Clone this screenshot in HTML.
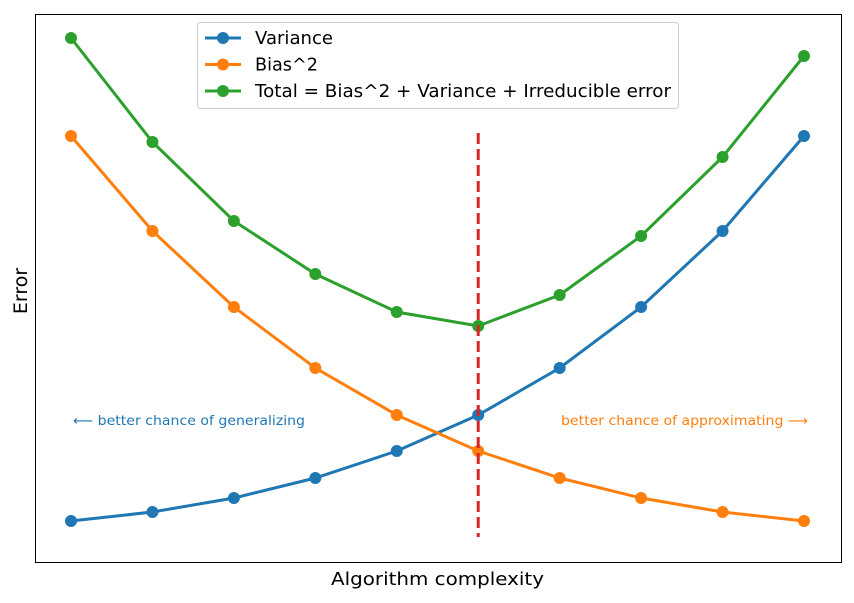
<!DOCTYPE html>
<html><head><meta charset="utf-8"><style>
body{margin:0;background:#fff;width:854px;height:598px;overflow:hidden}
svg{font-family:"DejaVu Sans","Liberation Sans",sans-serif}
</style></head><body>
<svg id="chart" width="854" height="598">
<rect x="35.5" y="14.5" width="806" height="548" fill="#fff" stroke="#000" stroke-width="1"/>
<text x="331" y="585" font-size="18" textLength="213" lengthAdjust="spacingAndGlyphs">Algorithm complexity</text>
<text transform="translate(27,291) rotate(-90)" font-size="19" text-anchor="middle">Error</text>
<text x="73" y="425" font-size="13.5" fill="#1f77b4" textLength="232" lengthAdjust="spacingAndGlyphs">⟵  better chance of generalizing</text>
<text x="561" y="425" font-size="13.5" fill="#ff7f0e" textLength="247" lengthAdjust="spacingAndGlyphs">better chance of approximating  ⟶</text>
<g id="marks"></g>
<g>
<rect x="197.5" y="22.5" width="481" height="86" rx="3" fill="#fff" fill-opacity="0.8" stroke="#ccc"/>
<g id="legend-items"></g>
</g>
</svg>
<script>
const categories = [1,2,3,4,5,6,7,8,9,10];
const variance = [41,50,64,84,111,147,194,255,331,426];
const biasSquared = [426,331,255,194,147,111,84,64,50,41];
const total = [524,420,341,288,250,236,267,326,405,506];
const optimumIndex = 5;
const optimumRange = [25,429];
const seriesNames = ["Variance","Bias^2","Total = Bias^2 + Variance + Irreducible error"];

const NS="http://www.w3.org/2000/svg";
function xs(i){return 71+(804-71)*(i/(categories.length-1));}
function ys(v){return 562-v;}
const g=document.getElementById('marks');
const colors=["#1f77b4","#ff7f0e","#2ca02c"];
const allSeries=[variance,biasSquared,total];
const keys=['variance','bias-squared','total'];
allSeries.forEach((s,k)=>{
  const pl=document.createElementNS(NS,'polyline');
  pl.setAttribute('points',s.map((v,i)=>xs(i)+','+ys(v)).join(' '));
  pl.setAttribute('fill','none');pl.setAttribute('stroke',colors[k]);pl.setAttribute('stroke-width','3');
  
  
  g.appendChild(pl);
  s.forEach((v,i)=>{
    const c=document.createElementNS(NS,'circle');
    c.setAttribute('cx',xs(i));c.setAttribute('cy',ys(v));c.setAttribute('r','6');c.setAttribute('fill',colors[k]);
    
    
    g.appendChild(c);
  });
});
const dl=document.createElementNS(NS,'line');
dl.setAttribute('x1',xs(optimumIndex));dl.setAttribute('x2',xs(optimumIndex));
dl.setAttribute('y1',ys(optimumRange[1]));dl.setAttribute('y2',ys(optimumRange[0]));
dl.setAttribute('stroke','#d62728');dl.setAttribute('stroke-width','3');dl.setAttribute('stroke-dasharray','11,5');


g.appendChild(dl);
const legendLens=[78,63,416];
const lg=document.getElementById('legend-items');
seriesNames.forEach((n,k)=>{
  const y=38+k*26.5;
  const l=document.createElementNS(NS,'line');
  l.setAttribute('x1',205);l.setAttribute('x2',241);l.setAttribute('y1',y);l.setAttribute('y2',y);
  l.setAttribute('stroke',colors[k]);l.setAttribute('stroke-width','3');
  
  
  lg.appendChild(l);
  const c=document.createElementNS(NS,'circle');
  c.setAttribute('cx',223);c.setAttribute('cy',y);c.setAttribute('r','6');c.setAttribute('fill',colors[k]);
  
  
  lg.appendChild(c);
  const t=document.createElementNS(NS,'text');
  t.setAttribute('x',255);t.setAttribute('y',y+6);t.setAttribute('font-size','17.5');
  t.setAttribute('textLength',legendLens[k]);t.setAttribute('lengthAdjust','spacingAndGlyphs');
  t.textContent=n;
  
  
  lg.appendChild(t);
});
</script>
</body></html>
